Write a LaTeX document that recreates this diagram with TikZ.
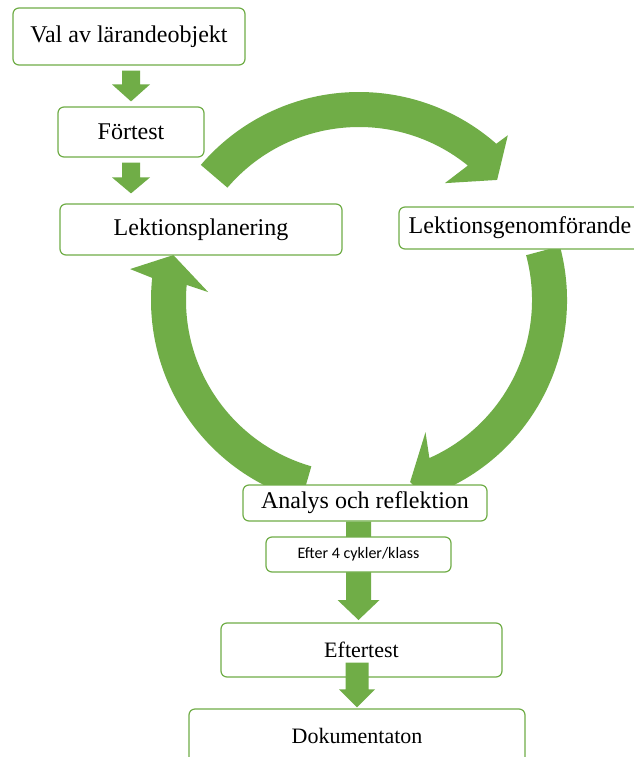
\documentclass[tikz,border=0pt]{standalone}
\usepackage{fontspec}
\setmainfont{Liberation Serif}
\newfontfamily\calibrifont{Carlito}
\usetikzlibrary{calc}
\definecolor{arrowgreen}{HTML}{70AD47}
\definecolor{boxgreen}{HTML}{70AD47}
\tikzset{
  box/.style={draw=boxgreen, line width=1.2pt, fill=white, rounded corners=6pt,
    inner sep=0pt, font=\fontsize{24}{28}\selectfont},
  blockdown/.style n args={5}{to path={
    let \p1=(\tikztostart), \p2=(\tikztotarget) in
    ({\x2-#1pt},{\y1-(#4pt)}) -- ({\x2+#1pt},{\y1-(#4pt)})
    -- ({\x2+#1pt},{\y2+#5pt+#3pt}) -- ({\x2+#2pt},{\y2+#5pt+#3pt})
    -- ({\x2},{\y2+#5pt})
    -- ({\x2-#2pt},{\y2+#5pt+#3pt}) -- ({\x2-#1pt},{\y2+#5pt+#3pt}) -- cycle}},
  arrowfill/.style={fill=arrowgreen}
}
\begin{document}
\begin{tikzpicture}[x=1pt,y=-1pt]
\useasboundingbox (0,0) rectangle (633,757);
\fill[white] (0,0) rectangle (633,757);

% circular arrows
\begin{scope}[shift={(359,300)}]
  \fill[arrowfill] (-139.5:173) arc[start angle=-139.5,end angle=-51,radius=173]
    -- (-53.7:145) -- (-41:183) -- (-47.9:222) -- (-48.7:208)
    arc[start angle=-48.7,end angle=-139.5,radius=208] -- cycle;
  \fill[arrowfill] (-15:173) arc[start angle=-15,end angle=66,radius=173]
    -- (63.3:148) -- (74.3:189) -- (69.3:224) -- (68.3:208)
    arc[start angle=68.3,end angle=-15,radius=208] -- cycle;
  \fill[arrowfill] (106:173) arc[start angle=106,end angle=185,radius=173]
    -- (183:151) -- (193.6:191) -- (187.7:231) -- (186.1:208)
    arc[start angle=186.1,end angle=106,radius=208] -- cycle;
\end{scope}

% boxes
\node[box, minimum width=232, minimum height=57] (val) at (129,36.5) {Val av lärandeobjekt};
\node[box, minimum width=146, minimum height=50] (fortest) at (131,132) {Förtest};
\node[box, minimum width=282, minimum height=51] (lp) at (201,229.5) {Lektionsplanering};
\node[box, minimum width=242, minimum height=42] (lg) at (520,228) {Lektionsgenomförande};
\node[box, minimum width=244, minimum height=36] (analys) at (365,503) {Analys och reflektion};

% straight block arrows
\fill[arrowfill] (val.south) to[blockdown={9}{19}{17}{5}{5}] (fortest.north);
\fill[arrowfill] (fortest.south) to[blockdown={9}{19}{16}{5}{10}] (fortest.south |- lp.north);

\node[box, minimum width=281, minimum height=54, font=\fontsize{22}{26}\selectfont] (eftertest) at (361.5,650) {Eftertest};
\coordinate (a3tip) at (358.5,623);
\fill[arrowfill] (analys.south) to[blockdown={12.5}{21}{20}{0}{3}] (a3tip);
\node[box, minimum width=185, minimum height=35, font=\calibrifont\fontsize{16}{19}\selectfont] (efter4) at (358.5,554.5) {Efter 4 cykler/klass};
\node[box, minimum width=336, minimum height=54, font=\fontsize{22}{26}\selectfont] (dok) at (357,736) {Dokumentaton};
\fill[arrowfill] (eftertest.south) to[blockdown={11.5}{18}{18}{-15}{1}] (dok.north);
\end{tikzpicture}
\end{document}
